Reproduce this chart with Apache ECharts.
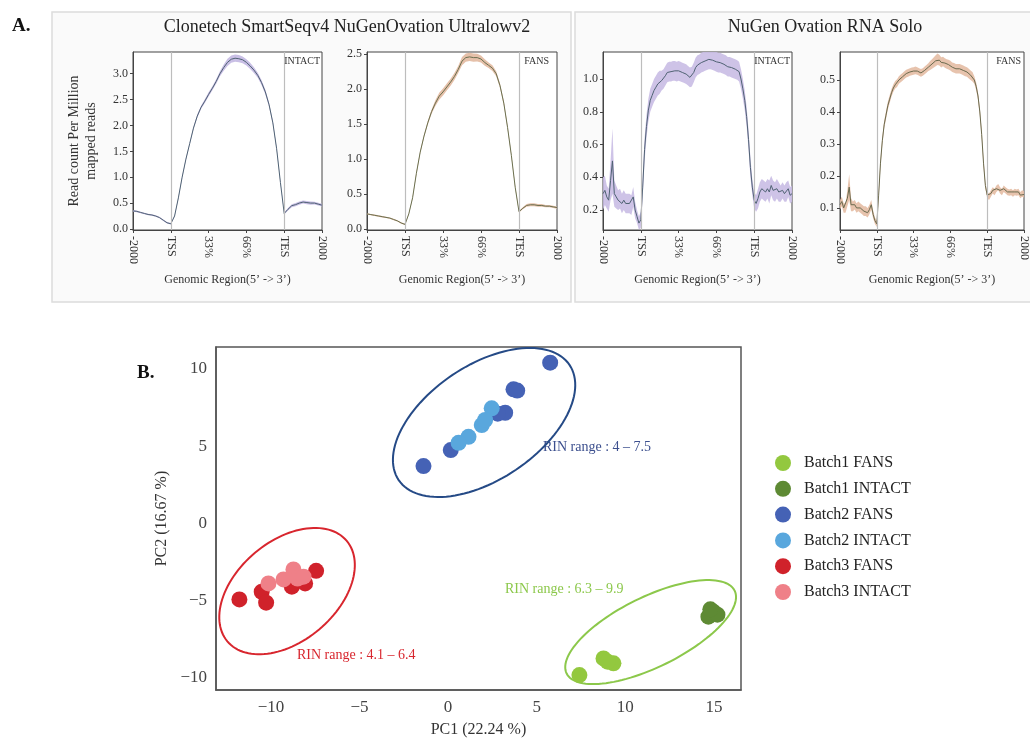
<!DOCTYPE html>
<html><head><meta charset="utf-8">
<script src="https://cdn.jsdelivr.net/npm/echarts@6/dist/echarts.min.js"></script>
<style>html,body{margin:0;padding:0;background:#fff}#c{width:1030px;height:740px}</style>
</head><body><div id="c"></div>
<script>
// ---------- Panel A data ----------
const regionTicks = ['-2000', 'TSS', '33%', '66%', 'TES', '2000'];
const regionTickPos = [0, 1, 2, 3, 4, 5];
const stepSmart = 0.1;
const stepSolo = 0.05;

const smartIntactMean = [0.35,0.34,0.32,0.30,0.28,0.27,0.25,0.22,0.17,0.12,0.10,
  0.25,0.6,1.0,1.35,1.65,1.95,2.18,2.35,2.47,2.6,
  2.72,2.85,3.0,3.12,3.22,3.28,3.3,3.29,3.27,3.22,
  3.15,3.07,2.97,2.83,2.65,2.4,2.05,1.55,0.9,0.3,
  0.38,0.45,0.47,0.5,0.52,0.51,0.5,0.5,0.48,0.46];
const smartIntactSE = [0.015,0.015,0.015,0.015,0.015,0.015,0.015,0.015,0.015,0.015,0.015,
  0.015,0.02,0.02,0.02,0.02,0.025,0.03,0.03,0.035,0.04,
  0.04,0.045,0.05,0.06,0.07,0.07,0.07,0.07,0.065,0.06,
  0.06,0.055,0.05,0.05,0.045,0.04,0.03,0.025,0.02,0.02,
  0.025,0.03,0.03,0.03,0.03,0.03,0.03,0.025,0.025,0.025];

const smartFansMean = [0.22,0.21,0.20,0.19,0.18,0.17,0.16,0.14,0.12,0.09,0.07,
  0.22,0.45,0.8,1.1,1.33,1.52,1.68,1.8,1.9,1.96,
  2.03,2.1,2.18,2.28,2.4,2.45,2.46,2.45,2.45,2.43,
  2.38,2.34,2.3,2.22,2.05,1.8,1.45,1.05,0.6,0.25,
  0.3,0.34,0.35,0.35,0.34,0.34,0.33,0.33,0.32,0.31];
const smartFansSE = [0.01,0.01,0.01,0.01,0.01,0.01,0.01,0.01,0.01,0.01,0.01,
  0.01,0.015,0.02,0.02,0.02,0.025,0.03,0.04,0.05,0.05,
  0.05,0.05,0.05,0.05,0.06,0.06,0.06,0.06,0.055,0.05,
  0.045,0.04,0.04,0.035,0.03,0.03,0.025,0.02,0.02,0.015,
  0.015,0.02,0.02,0.02,0.02,0.02,0.015,0.015,0.015,0.015];

const soloIntactMean = [0.30,0.32,0.28,0.26,0.38,0.50,0.30,0.28,0.26,0.27,0.24,0.26,0.24,0.24,0.24,0.23,0.28,0.20,0.16,0.12,0.14,
  0.34,0.57,0.71,0.81,0.87,0.90,0.93,0.95,0.97,0.98,0.99,1.0,1.02,1.04,1.045,1.045,1.05,1.05,1.045,1.05,
  1.045,1.04,1.035,1.03,1.02,1.01,1.015,1.04,1.07,1.085,1.09,1.1,1.105,1.11,1.115,1.12,1.12,1.115,1.11,1.105,
  1.1,1.1,1.095,1.09,1.085,1.075,1.075,1.07,1.065,1.06,1.055,1.045,1.0,0.94,0.87,0.77,0.63,0.46,0.34,0.26,
  0.24,0.27,0.31,0.33,0.32,0.31,0.33,0.31,0.35,0.32,0.31,0.33,0.31,0.30,0.32,0.30,0.31,0.33,0.29,0.30];
const soloIntactSE = [0.1,0.09,0.07,0.07,0.12,0.2,0.08,0.07,0.06,0.06,0.06,0.06,0.06,0.06,0.06,0.06,0.06,0.05,0.04,0.04,0.05,
  0.06,0.07,0.07,0.07,0.07,0.07,0.07,0.07,0.07,0.07,0.06,0.06,0.06,0.06,0.06,0.06,0.06,0.06,0.06,0.06,
  0.06,0.06,0.06,0.06,0.06,0.06,0.06,0.06,0.06,0.06,0.06,0.06,0.06,0.06,0.06,0.06,0.06,0.06,0.06,0.06,
  0.06,0.06,0.06,0.06,0.06,0.06,0.06,0.06,0.06,0.06,0.06,0.06,0.06,0.06,0.06,0.06,0.06,0.06,0.05,0.05,
  0.05,0.06,0.06,0.06,0.06,0.06,0.06,0.07,0.06,0.06,0.06,0.06,0.06,0.05,0.05,0.05,0.06,0.05,0.05,0.05];

const soloFansMean = [0.11,0.12,0.10,0.10,0.13,0.165,0.11,0.105,0.11,0.10,0.105,0.10,0.095,0.09,0.09,0.085,0.095,0.11,0.08,0.06,0.05,
  0.14,0.24,0.31,0.36,0.39,0.42,0.44,0.46,0.475,0.485,0.49,0.50,0.505,0.51,0.515,0.52,0.522,0.525,0.527,0.528,
  0.53,0.528,0.525,0.522,0.525,0.53,0.535,0.54,0.545,0.55,0.555,0.56,0.565,0.562,0.555,0.558,0.553,0.55,0.548,0.545,
  0.54,0.538,0.535,0.535,0.535,0.533,0.53,0.527,0.525,0.52,0.515,0.51,0.50,0.48,0.45,0.40,0.33,0.24,0.17,0.14,
  0.135,0.145,0.155,0.15,0.16,0.165,0.155,0.15,0.16,0.155,0.15,0.148,0.15,0.145,0.15,0.148,0.15,0.14,0.145,0.142];
const soloFansSE = [0.015,0.015,0.015,0.015,0.025,0.04,0.02,0.015,0.015,0.015,0.015,0.015,0.015,0.015,0.015,0.015,0.015,0.015,0.012,0.01,0.01,
  0.012,0.012,0.012,0.012,0.012,0.012,0.012,0.012,0.012,0.012,0.012,0.012,0.012,0.012,0.012,0.012,0.012,0.012,0.012,0.012,
  0.012,0.012,0.012,0.012,0.012,0.012,0.012,0.012,0.014,0.015,0.016,0.017,0.018,0.017,0.016,0.015,0.015,0.015,0.015,0.015,
  0.015,0.015,0.015,0.015,0.015,0.015,0.015,0.015,0.015,0.015,0.015,0.015,0.012,0.012,0.012,0.012,0.012,0.012,0.01,0.01,
  0.01,0.01,0.01,0.01,0.01,0.01,0.01,0.01,0.01,0.01,0.01,0.01,0.01,0.01,0.01,0.01,0.01,0.01,0.01,0.01];

const yTicksA = [
  [0, 0.5, 1.0, 1.5, 2.0, 2.5, 3.0],
  [0, 0.5, 1.0, 1.5, 2.0, 2.5],
  [0.2, 0.4, 0.6, 0.8, 1.0],
  [0.1, 0.2, 0.3, 0.4, 0.5]
];
const yRangeA = [[-0.02, 3.42], [-0.01, 2.53], [0.078, 1.165], [0.031, 0.5875]];
const sampleLabels = ['INTACT', 'FANS', 'INTACT', 'FANS'];

// ---------- Panel B data ----------
const batch1Fans = [[7.41,-9.87],[8.77,-8.79],[9.33,-9.11],[9.0,-9.0]];
const batch1Intact = [[14.97,-5.76],[14.69,-6.08],[15.2,-5.95],[14.8,-5.6]];
const batch2Fans = [[5.76,10.41],[3.69,8.68],[3.9,8.6],[3.22,7.16],[2.8,7.1],[0.15,4.74],[-1.39,3.7]];
const batch2Intact = [[2.46,7.45],[1.9,6.36],[2.09,6.69],[1.15,5.6],[0.59,5.21]];
const batch3Fans = [[-11.78,-4.96],[-10.52,-4.46],[-10.27,-5.17],[-8.82,-4.13],[-8.07,-3.92],[-7.45,-3.1]];
const batch3Intact = [[-10.14,-3.92],[-9.29,-3.66],[-8.73,-3.01],[-8.5,-3.6],[-8.16,-3.48]];
const groupNames = ['Batch1 FANS','Batch1 INTACT','Batch2 FANS','Batch2 INTACT','Batch3 FANS','Batch3 INTACT'];
const pcXTicks = [-10, -5, 0, 5, 10, 15];
const pcYTicks = [-10, -5, 0, 5, 10];
// ellipse: centre, and two conjugate semi-axis vectors (data units)
const ellipseCentres = [[2.03, 6.53], [11.43, -7.08], [-9.09, -4.42]];
const ellipseAxisA = [[4.82, 3.74], [4.74, 2.69], [3.37, 3.26]];
const ellipseAxisB = [[1.80, -3.07], [0.875, -2.04], [1.81, -2.49]];
const rinLabels = ['RIN range : 4 \u2013 7.5', 'RIN range : 6.3 \u2013 9.9', 'RIN range : 4.1 \u2013 6.4'];

// ---------- build ----------
const SERIF = 'Liberation Serif';
const groupColors = ['#93c83f', '#5e8a34', '#4562b5', '#59a7dd', '#d0222b', '#ef8088'];
const ellipseColors = ['#254a86', '#8cc84b', '#d8262e'];

const gridsA = [
  {left: 133, top: 52, width: 189, height: 178},
  {left: 367, top: 52, width: 190, height: 178},
  {left: 603, top: 52, width: 189, height: 178},
  {left: 840, top: 52, width: 189, height: 178}
];
const grids = gridsA.map(g => Object.assign({show: true, borderColor: '#444', borderWidth: 1, backgroundColor: '#fff', containLabel: false}, g));
grids.push({left: 216, top: 347, width: 525, height: 343, show: true, borderColor: '#555', borderWidth: 1.5, backgroundColor: '#fff'});

const xAxes = [], yAxes = [], series = [];
const profiles = [
  {mean: smartIntactMean, se: smartIntactSE, step: stepSmart, line: '#4f6273', band: '#c3b8e2'},
  {mean: smartFansMean, se: smartFansSE, step: stepSmart, line: '#6a7050', band: '#e2b9a0'},
  {mean: soloIntactMean, se: soloIntactSE, step: stepSolo, line: '#4f6273', band: '#c9bde4'},
  {mean: soloFansMean, se: soloFansSE, step: stepSolo, line: '#6a6a4e', band: '#e4bca4'}
];
profiles.forEach((p, i) => {
  xAxes.push({
    type: 'value', gridIndex: i, min: 0, max: 5,
    axisLine: {show: true, onZero: false, lineStyle: {color: '#444'}},
    axisTick: {show: true, length: 3, customValues: regionTickPos, lineStyle: {color: '#444'}},
    splitLine: {show: false},
    axisLabel: {customValues: regionTickPos, rotate: -90, margin: 6, fontFamily: SERIF, fontSize: 12, color: '#333',
      formatter: v => regionTicks[Math.round(v)]},
    name: 'Genomic Region(5\u2019 -> 3\u2019)', nameLocation: 'middle', nameGap: 44,
    nameTextStyle: {fontFamily: SERIF, fontSize: 12, color: '#333'}
  });
  yAxes.push({
    type: 'value', gridIndex: i, min: yRangeA[i][0], max: yRangeA[i][1],
    axisLine: {show: true, onZero: false, lineStyle: {color: '#444'}},
    axisTick: {show: true, length: 3, customValues: yTicksA[i], lineStyle: {color: '#444'}},
    splitLine: {show: false},
    axisLabel: {customValues: yTicksA[i], margin: 5, fontFamily: SERIF, fontSize: 12, color: '#333',
      formatter: v => v.toFixed(1)},
    name: i === 0 ? 'Read count Per Million\nmapped reads' : '', nameLocation: 'middle', nameGap: 33, nameRotate: 90,
    nameTextStyle: {fontFamily: SERIF, fontSize: 14, color: '#333', lineHeight: 17}
  });
  const xs = p.mean.map((_, k) => +(k * p.step).toFixed(3));
  const meanPts = p.mean.map((m, k) => [xs[k], m]);
  const lo = yRangeA[i][0], hi = yRangeA[i][1];
  const clampY = v => Math.max(lo, Math.min(hi, v));
  // confidence band: polygon mean ± se
  series.push({
    type: 'custom', xAxisIndex: i, yAxisIndex: i, silent: true, z: 1,
    data: meanPts, encode: {x: 0, y: 1},
    renderItem: (params, api) => {
      if (params.dataIndex !== 0) return null;
      const upper = p.mean.map((m, k) => api.coord([xs[k], clampY(m + p.se[k])]));
      const lower = p.mean.map((m, k) => api.coord([xs[k], clampY(m - p.se[k])])).reverse();
      return {type: 'polygon', shape: {points: upper.concat(lower)}, style: {fill: p.band, opacity: 0.9}};
    }
  });
  series.push({type: 'line', xAxisIndex: i, yAxisIndex: i, data: meanPts, symbol: 'none',
    lineStyle: {color: p.line, width: 1}, z: 3, clip: true,
    markLine: {silent: true, symbol: 'none', label: {show: false}, lineStyle: {color: '#bdbdbd', type: 'solid', width: 1.2},
      data: [{xAxis: 1}, {xAxis: 4}]}});
});

// Panel B axes
xAxes.push({
  type: 'value', gridIndex: 4, min: -13.1, max: 16.53,
  axisLine: {show: true, onZero: false, lineStyle: {color: '#555', width: 1.5}}, axisTick: {show: false}, splitLine: {show: false},
  axisLabel: {customValues: pcXTicks, margin: 9, fontFamily: SERIF, fontSize: 17, color: '#444',
    formatter: v => String(v).replace('-', '\u2212')},
  name: 'PC1 (22.24 %)', nameLocation: 'middle', nameGap: 32,
  nameTextStyle: {fontFamily: SERIF, fontSize: 16, color: '#333'}
});
yAxes.push({
  type: 'value', gridIndex: 4, min: -10.84, max: 11.43,
  axisLine: {show: true, onZero: false, lineStyle: {color: '#555', width: 1.5}}, axisTick: {show: false}, splitLine: {show: false},
  axisLabel: {customValues: pcYTicks, margin: 9, fontFamily: SERIF, fontSize: 17, color: '#444',
    formatter: v => String(v).replace('-', '\u2212')},
  name: 'PC2 (16.67 %)', nameLocation: 'middle', nameGap: 34, nameRotate: 90,
  nameTextStyle: {fontFamily: SERIF, fontSize: 16, color: '#333'}
});

series.push({
  type: 'custom', xAxisIndex: 4, yAxisIndex: 4, silent: true, z: 1,
  data: ellipseCentres,
  encode: {x: 0, y: 1},
  renderItem: (params, api) => {
    const i = params.dataIndex;
    const c = ellipseCentres[i], a = ellipseAxisA[i], b = ellipseAxisB[i];
    const pts = [];
    for (let k = 0; k <= 120; k++) {
      const t = k / 120 * Math.PI * 2;
      pts.push(api.coord([c[0] + Math.cos(t) * a[0] + Math.sin(t) * b[0], c[1] + Math.cos(t) * a[1] + Math.sin(t) * b[1]]));
    }
    return {type: 'polyline', shape: {points: pts}, style: {fill: null, stroke: ellipseColors[i], lineWidth: 2}};
  }
});
[batch1Fans, batch1Intact, batch2Fans, batch2Intact, batch3Fans, batch3Intact].forEach((d, i) => {
  series.push({type: 'scatter', name: groupNames[i], xAxisIndex: 4, yAxisIndex: 4, data: d,
    symbolSize: 16, itemStyle: {color: groupColors[i], opacity: 1}, z: 4});
});

const graphic = [
  {type: 'rect', z: -100, shape: {x: 52, y: 12, width: 519, height: 290}, style: {fill: '#fafafa', stroke: '#dcdcdc', lineWidth: 1.5}},
  {type: 'rect', z: -100, shape: {x: 575, y: 12, width: 470, height: 290}, style: {fill: '#fafafa', stroke: '#dcdcdc', lineWidth: 1.5}},
  {type: 'text', left: 12, top: 17, style: {text: 'A.', font: 'bold 19px "Liberation Serif"', fill: '#111'}},
  {type: 'text', left: 137, top: 364, style: {text: 'B.', font: 'bold 19px "Liberation Serif"', fill: '#111'}},
  {type: 'text', x: 347, y: 27, style: {text: 'Clonetech SmartSeqv4 NuGenOvation Ultralowv2', font: '18px "Liberation Serif"', fill: '#222', align: 'center', verticalAlign: 'middle'}},
  {type: 'text', x: 825, y: 27, style: {text: 'NuGen Ovation RNA Solo', font: '18px "Liberation Serif"', fill: '#222', align: 'center', verticalAlign: 'middle'}},
  {type: 'text', x: 543, y: 447, style: {text: rinLabels[0], font: '14px "Liberation Serif"', fill: '#3c4f8e', verticalAlign: 'middle'}},
  {type: 'text', x: 505, y: 589, style: {text: rinLabels[1], font: '14px "Liberation Serif"', fill: '#8cc84b', verticalAlign: 'middle'}},
  {type: 'text', x: 297, y: 655, style: {text: rinLabels[2], font: '14px "Liberation Serif"', fill: '#d8262e', verticalAlign: 'middle'}}
];
const labelRight = [320, 549, 790, 1021];
sampleLabels.forEach((t, i) => {
  graphic.push({type: 'text', x: labelRight[i], y: 61, z: 10, style: {text: t, font: '10px "Liberation Serif"', fill: '#333', align: 'right', verticalAlign: 'middle'}});
});

const chart = echarts.init(document.getElementById('c'), null, {renderer: 'canvas'});
chart.setOption({
  backgroundColor: '#fff',
  animation: false,
  grid: grids,
  xAxis: xAxes,
  yAxis: yAxes,
  legend: {
    data: groupNames, orient: 'vertical', left: 770, top: 450, icon: 'circle',
    itemWidth: 16, itemHeight: 16, itemGap: 9.8,
    textStyle: {fontFamily: SERIF, fontSize: 16, color: '#222', padding: [0, 0, 0, 8]}
  },
  graphic: graphic,
  series: series
});
</script></body></html>
